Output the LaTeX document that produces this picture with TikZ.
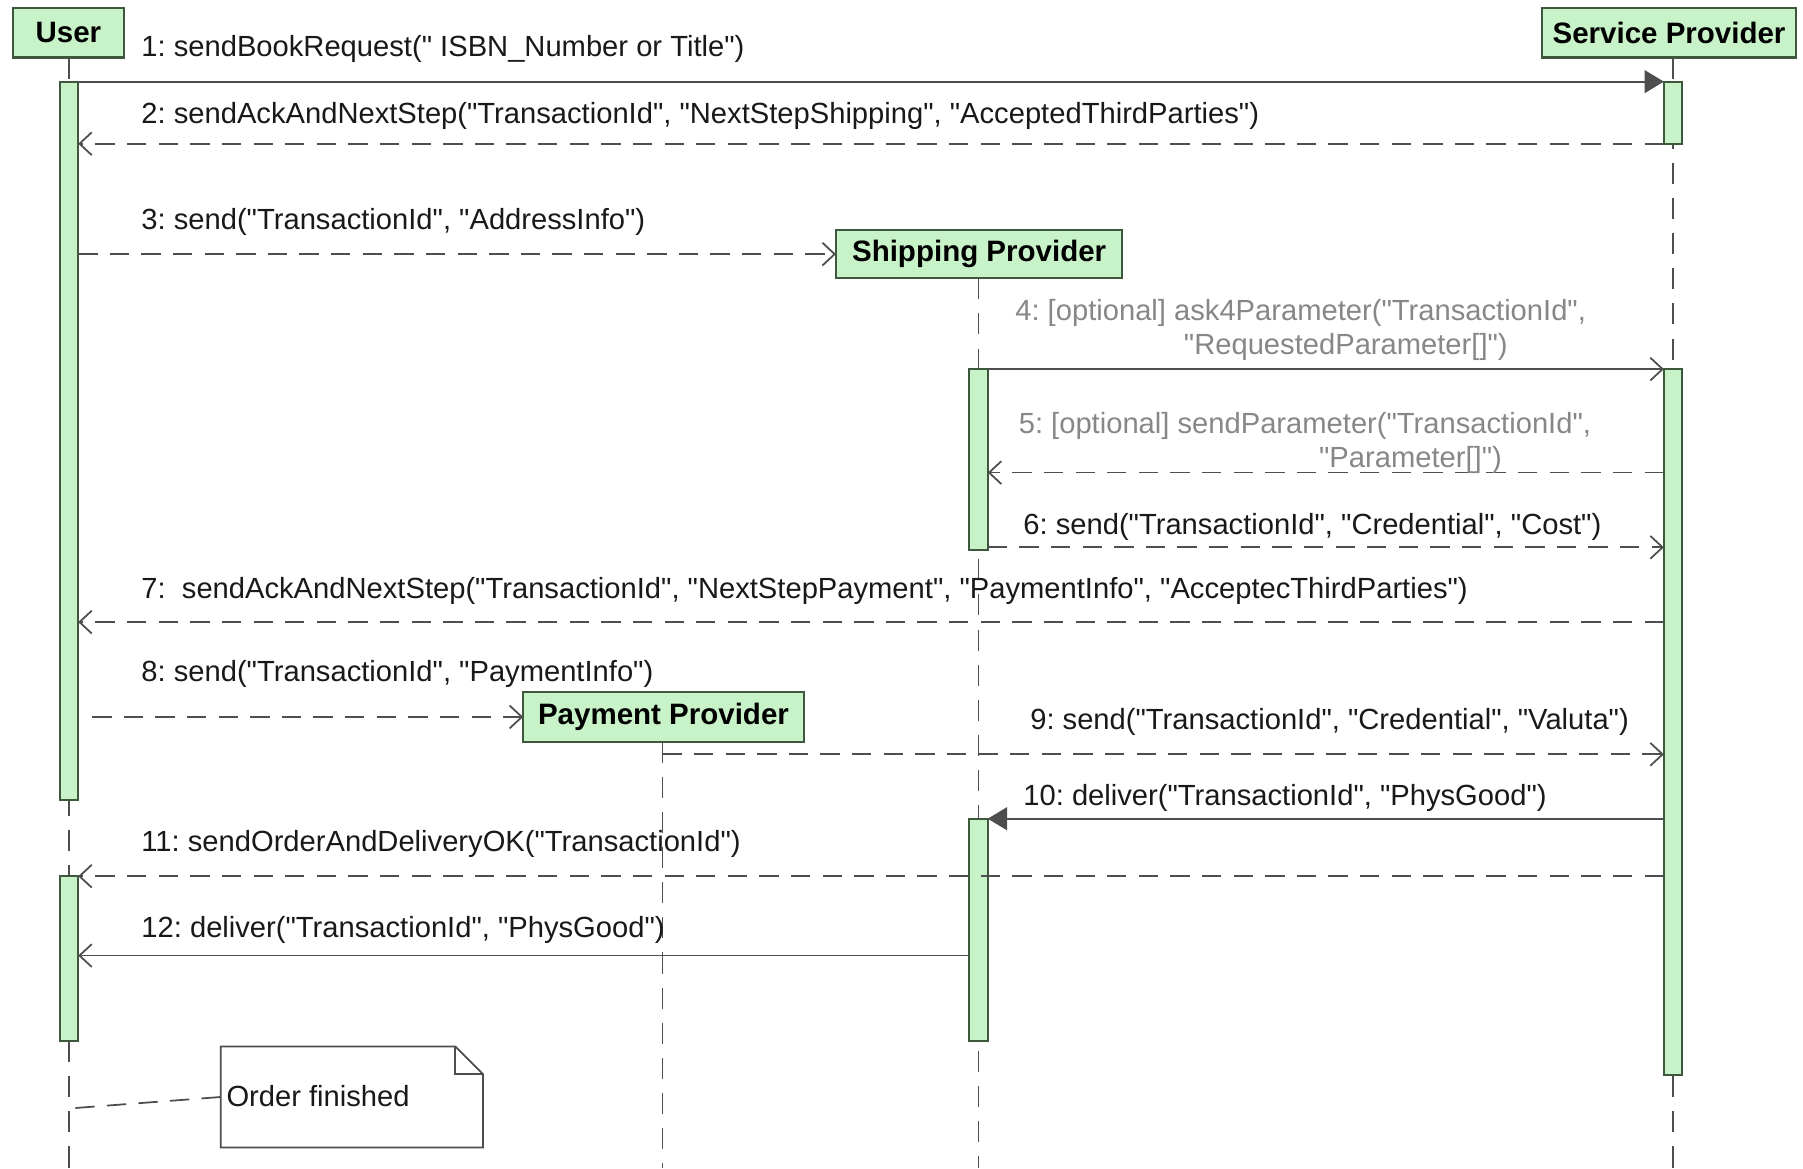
\documentclass[tikz,border=0pt]{standalone}
\usepackage{fontspec}
\setmainfont{Liberation Sans}[Ligatures=TeXOff]
\frenchspacing
\usetikzlibrary{arrows.meta}
\definecolor{actfill}{RGB}{200,242,200}
\definecolor{actline}{RGB}{62,88,62}
\definecolor{msgline}{RGB}{78,78,78}
\definecolor{optgray}{RGB}{135,135,135}
\definecolor{labeltext}{RGB}{25,25,25}

\begin{document}
\begin{tikzpicture}[x=0.0115cm, y=-0.0115cm,
  every node/.style={font=\fontsize{8.3pt}{9.8pt}\selectfont, inner sep=0pt, outer sep=0pt, text=labeltext},
  size/.style 2 args={minimum width=#1*0.0115cm, minimum height=#2*0.0115cm},
  header/.style={draw=actline, fill=actfill, line width=0.6pt, text=black,
                 font=\fontsize{8.4pt}{10pt}\selectfont\bfseries},
  actbar/.style={draw=actline, fill=actfill, line width=0.5pt, anchor=north},
  lifeline/.style={draw=msgline, line width=0.45pt, dash pattern=on 6pt off 4pt},
  msg/.style={draw=msgline, line width=0.5pt},
  call/.style={msg, -{Triangle[length=5.5pt,width=6.5pt]}},
  async/.style={msg, -{Straight Barb[length=3.5pt,width=6.5pt]}},
  reply/.style={async, dash pattern=on 5.5pt off 3.5pt},
  notebox/.style={draw=msgline, line width=0.5pt},
  notelink/.style={msg, dash pattern=on 5.5pt off 3.5pt}
]
\useasboundingbox[fill=white] (0,0) rectangle (1568,1016);

% participant headers
\node[header, size={97}{43}] (user) at (59.5,28.5) {User};
\node[header, size={221}{43}] (service) at (1451.5,28.5) {Service Provider};
\node[header, size={249}{42}] (ship) at (851.5,221) {Shipping Provider};
\node[header, size={244}{43}] (pay) at (577,623.5) {Payment Provider};

% lifeline ends at the bottom of the picture
\coordinate (uend) at (60,1016);
\coordinate (send) at (1455,1016);
\coordinate (shend) at (851,1016);
\coordinate (pend) at (576,1016);

\draw[lifeline] (user.south -| uend) -- (uend);
\draw[lifeline] (service.south -| send) -- (send);
\draw[lifeline] (ship.south -| shend) -- (shend);
\draw[lifeline] (pay.south -| pend) -- (pend);

% activation bars
\node[actbar, size={16}{625}] (uact1) at (60,71) {};
\node[actbar, size={16}{143}] (uact2) at (60,762) {};
\node[actbar, size={16}{54}] (sact1) at (1455,71) {};
\node[actbar, size={16}{614}] (sact2) at (1455,321) {};
\node[actbar, size={16}{157}] (shact1) at (851,321) {};
\node[actbar, size={16}{193}] (shact2) at (851,712) {};

% message rows
\coordinate (r5) at (0,411);
\coordinate (r6) at (0,476);
\coordinate (r7) at (0,541);
\coordinate (r9) at (0,656);
\coordinate (r12) at (0,831);

% messages
\draw[call] (uact1.north east) -- (sact1.north west);
\node[anchor=west] (l1) at (123,43) {1: sendBookRequest(" ISBN\_Number or Title")};

\draw[reply] (sact1.south west) -- (uact1.east |- sact1.south);
\node[anchor=west] (l2) at (123,101) {2: sendAckAndNextStep("TransactionId", "NextStepShipping", "AcceptedThirdParties")};

\draw[reply] (uact1.east |- ship.west) -- (ship.west);
\node[anchor=west] (l3) at (123,193) {3: send("TransactionId", "AddressInfo")};

\draw[async] (shact1.north east) -- (sact2.north west);
\node[anchor=west, align=left, text=optgray] (l4) at (883,287)
  {4: [optional] ask4Parameter("TransactionId",\\\hspace*{48pt}"RequestedParameter[]")};

\draw[reply] (sact2.west |- r5) -- (shact1.east |- r5);
\node[anchor=west, align=left, text=optgray] (l5) at (886,385)
  {5: [optional] sendParameter("TransactionId",\\\hspace*{85.5pt}"Parameter[]")};

\draw[reply] (shact1.east |- r6) -- (sact2.west |- r6);
\node[anchor=west] (l6) at (890,458) {6: send("TransactionId", "Credential", "Cost")};

\draw[reply] (sact2.west |- r7) -- (uact1.east |- r7);
\node[anchor=west] (l7) at (123,514) {7:~ sendAckAndNextStep("TransactionId", "NextStepPayment", "PaymentInfo", "AcceptecThirdParties")};

\draw[reply, shorten <=0.14cm] (uact1.east |- pay.west) -- (pay.west);
\node[anchor=west] (l8) at (123,586) {8: send("TransactionId", "PaymentInfo")};

\draw[reply] (pend |- r9) -- (sact2.west |- r9);
\node[anchor=west] (l9) at (896,628) {9: send("TransactionId", "Credential", "Valuta")};

\draw[call] (sact2.west |- shact2.north) -- (shact2.north east);
\node[anchor=west] (l10) at (890,694) {10: deliver("TransactionId", "PhysGood")};

\draw[reply] (sact2.west |- uact2.north) -- (uact2.north east);
\node[anchor=west] (l11) at (123,734) {11: sendOrderAndDeliveryOK("TransactionId")};

\draw[async] (shact2.west |- r12) -- (uact2.east |- r12);
\node[anchor=west] (l12) at (123,809) {12: deliver("TransactionId", "PhysGood")};

% closing note with a folded corner
\node[size={228}{88}, anchor=north west] (note) at (192,910) {};
\draw[notebox, fill=white] (note.north west) -- ([xshift=-24*0.0115cm]note.north east)
  -- ([yshift=-24*0.0115cm]note.north east) -- (note.south east)
  -- (note.south west) -- cycle;
\draw[notebox] ([xshift=-24*0.0115cm]note.north east) -- ++(0,24) -- ++(24,0);
\node[anchor=west] (notetext) at (197,953) {Order finished};
\coordinate (noteend) at (60,964);
\draw[notelink] (note.west) -- (noteend);
\end{tikzpicture}
\end{document}
